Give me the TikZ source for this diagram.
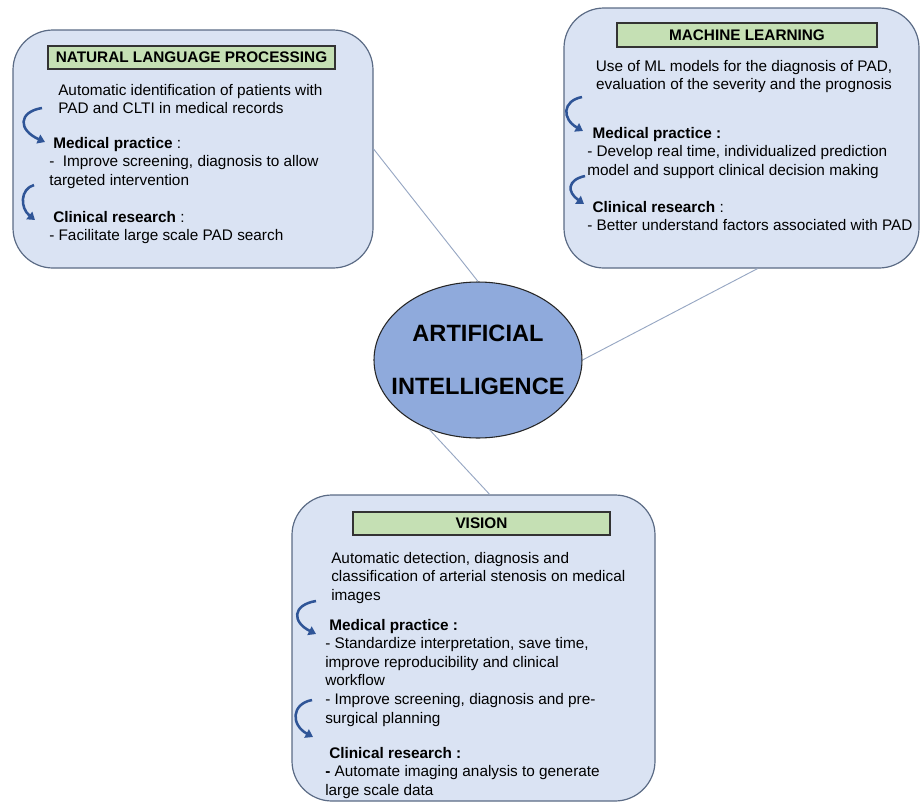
\documentclass[tikz,border=0pt]{standalone}
\usepackage{fontspec}
\setmainfont{Liberation Sans}
\usetikzlibrary{shapes.geometric,arrows.meta}
\definecolor{boxfill}{HTML}{DAE3F3}
\definecolor{boxline}{HTML}{5B6B85}
\definecolor{headfill}{HTML}{C5E0B4}
\definecolor{aifill}{HTML}{8FAADC}
\definecolor{linkline}{HTML}{97A7C3}
\definecolor{arrowblue}{HTML}{2F5597}
\newcommand\bodysize{\fontsize{11.5}{13.9}\selectfont}

\begin{document}
\begin{tikzpicture}
[x=0.75pt,y=-0.75pt,%
  every node/.style={inner sep=0pt,font=\bodysize},%
  areabox/.style={shape=rectangle,draw=boxline,line width=0.9pt,fill=boxfill,rounded corners=30pt},%
  headbox/.style={shape=rectangle,draw=black!80,line width=0.8pt,fill=headfill,font=\bodysize\bfseries},%
  aibubble/.style={shape=ellipse,draw=black!85,line width=0.8pt,fill=aifill,minimum width=156pt,minimum height=117pt},%
  txt/.style={anchor=north west,align=left},%
  link/.style={draw=linkline,line width=0.7pt},%
  turn/.style={draw=arrowblue,line width=1.9pt,-{Triangle[length=5.5pt,width=7pt]}}]
\useasboundingbox (0,0) rectangle (921,803);
% the three areas
\node[areabox,minimum width=270pt,minimum height=178.5pt] (nlp) at (193,149) {};
\node[areabox,minimum width=266.25pt,minimum height=195pt] (ml) at (741.5,138) {};
\node[areabox,minimum width=272.25pt,minimum height=229.5pt] (vis) at (473.5,648) {};
\node[aibubble] (ai) at (478,360) {};
\node[align=center,font=\fontsize{17.7}{39.75}\selectfont\bfseries] (ailabel) at (ai) {ARTIFICIAL\\INTELLIGENCE};
% links to the centre
\draw[link] (nlp.east) -- (ai.north);
\draw[link] (ml.-83) -- (ai.east);
\draw[link] (ai.235) -- (vis.84);
% natural language processing
\node[headbox,minimum width=215.25pt,minimum height=17.25pt] (nlphead) at (191.5,57.5) {NATURAL LANGUAGE PROCESSING};
\node[txt] (nlpintro) at (58,84) {Automatic identification of patients with\\PAD and CLTI in medical records};
\node[txt] (nlpmed) at (49,137) {\hspace*{3pt}\textbf{Medical practice} :\\-\ \ Improve screening, diagnosis to allow\\targeted intervention};
\node[txt] (nlpclin) at (49,211) {\hspace*{3pt}\textbf{Clinical research} :\\- Facilitate large scale PAD search};
% machine learning
\node[headbox,minimum width=195pt,minimum height=18pt] (mlhead) at (747,35) {MACHINE LEARNING};
\node[anchor=north,align=center] (mlintro) at (744,60) {Use of ML models for the diagnosis of PAD,\\evaluation of the severity and the prognosis};
\node[txt] (mlmed) at (587,127) {\hspace*{4pt}\textbf{Medical practice :}\\- Develop real time, individualized prediction\\model and support clinical decision making};
\node[txt] (mlclin) at (587,201) {\hspace*{4pt}\textbf{Clinical research} :\\- Better understand factors associated with PAD};
% vision
\node[headbox,minimum width=192.75pt,minimum height=17.25pt] (vishead) at (481.5,523.5) {VISION};
\node[txt] (visintro) at (331,552) {Automatic detection, diagnosis and\\classification of arterial stenosis on medical\\images};
\node[txt] (vismed) at (325,619) {\hspace*{3pt}\textbf{Medical practice :}\\- Standardize interpretation, save time,\\improve reproducibility and clinical\\workflow\\- Improve screening, diagnosis and pre-\\surgical planning};
\node[txt] (visclin) at (325,747) {\hspace*{3pt}\textbf{Clinical research :}\\\textbf{-} Automate imaging analysis to generate\\large scale data};
% curved arrows
\foreach \xs/\ys/\xe/\ye/\xc in {42/108/45/142/18, 34/185/35/220/20, 582/97/583/131/562,
    585/176/584/204/567, 316/601/316/634/292, 312/700/313/737/291}
  \draw[turn] (\xs,\ys) .. controls (\xc,\ys+4) and (\xc,\ye-12) .. (\xe,\ye);
\end{tikzpicture}
\end{document}
